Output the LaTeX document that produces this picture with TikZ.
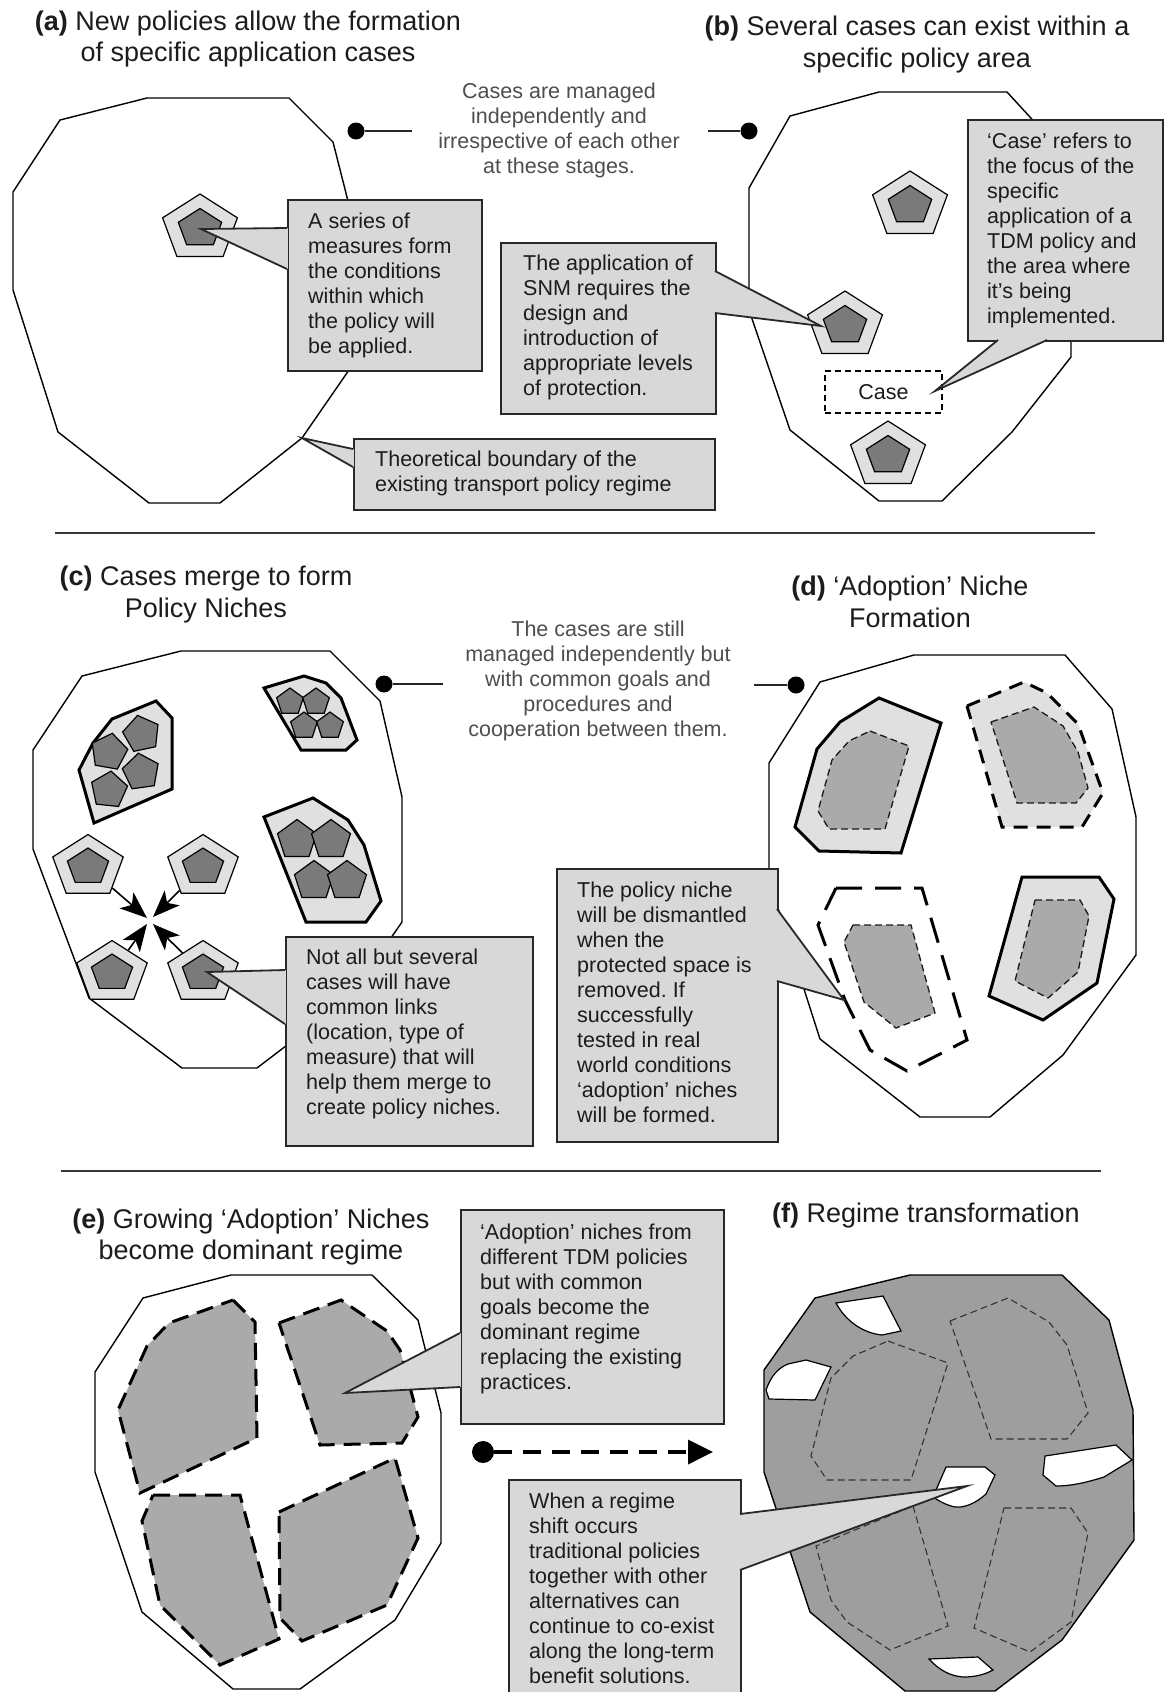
\documentclass[tikz,border=0pt]{standalone}
\usepackage{fontspec}
\setmainfont{Liberation Sans}
\usetikzlibrary{shapes.geometric,arrows.meta}
\frenchspacing

\definecolor{boxfill}{RGB}{216,216,216}
\definecolor{lightfill}{RGB}{224,224,224}
\definecolor{darkpent}{RGB}{122,122,122}
\definecolor{midfill}{RGB}{170,170,170}
\definecolor{regimefill}{RGB}{158,158,158}
\definecolor{textdark}{RGB}{28,28,28}
\definecolor{textgray}{RGB}{78,78,78}
\definecolor{rulegray}{RGB}{55,55,55}
\definecolor{framegray}{RGB}{40,40,40}

\newcommand\bodyfont{\fontsize{21.5}{25}\selectfont}
\newcommand\titlefont{\fontsize{27}{31.5}\selectfont}

% a case: light protective pentagon with the dark measure pentagon inside
\newcommand\casepent[5]{%
  \begin{scope}[shift={(#2,#3)}, xscale=1.14]
    \node[pentout, transform shape, minimum size=#4] (#1) at (0,0) {};
    \node[pentin, transform shape, minimum size=#5] (#1i) at (0,0) {};
  \end{scope}}

% speech-bubble wedge leaving a box: base point, tip, base point
\newcommand\pointer[3]{%
  \fill[boxfill] (#1) -- (#2) -- (#3) -- cycle;
  \draw[boxfill, line width=2.8] (#1) -- (#3);
  \draw[ptrline] (#1) -- (#2) -- (#3);}

\begin{document}
\begin{tikzpicture}[x=1pt, y=-1pt, line join=miter,
  regime/.style={draw=black, line width=1.4, fill=white},
  rule/.style={draw=rulegray, line width=2.6},
  boxframe/.style={draw=framegray, line width=1.8, fill=boxfill, inner sep=0, anchor=north west},
  ptrline/.style={draw=framegray, line width=1.8},
  bodytext/.style={font=\bodyfont, align=left, inner sep=0, text=textdark, anchor=west},
  titletext/.style={font=\titlefont, align=center, inner sep=0, text=textdark},
  midtext/.style={font=\bodyfont, align=center, inner sep=0, text=textgray},
  pentout/.style={regular polygon, regular polygon sides=5, inner sep=0, draw=black, line width=1.2, fill=lightfill},
  pentin/.style={regular polygon, regular polygon sides=5, inner sep=0, draw=black, line width=1.2, fill=darkpent},
  casebox/.style={draw=black, line width=1.5, dash pattern=on 6pt off 4pt, fill=white, inner sep=0, font=\bodyfont, text=textdark},
  enddot/.style={circle, fill=black, inner sep=0, minimum size=17},
  dotline/.style={draw=black!85, line width=1.6},
  merge/.style={draw=black, line width=1.6, -{Stealth[length=27pt, width=21pt, inset=7pt]}},
  shiftarrow/.style={draw=black, line width=3.6, dash pattern=on 18pt off 11pt, -{Triangle[length=25pt, width=24pt]}},
  cluster/.style={draw=black, line width=3, fill=lightfill},
  nichesolid/.style={draw=black, line width=3, fill=lightfill},
  nichedash/.style={draw=black, line width=3, dash pattern=on 14pt off 9pt, fill=lightfill},
  nicheopen/.style={draw=black, line width=3, dash pattern=on 26pt off 13pt},
  nicheinner/.style={draw=black!90, line width=1.3, dash pattern=on 7pt off 4pt, fill=midfill},
  grown/.style={draw=black, line width=3, dash pattern=on 17pt off 9pt, fill=midfill},
  former/.style={draw=black!80, line width=1.1, dash pattern=on 7pt off 4pt},
  hole/.style={draw=black, line width=1.2, fill=white}]

\useasboundingbox[fill=white] (0,0) rectangle (1167,1692);

% section dividers
\draw[rule] (55,533) -- (1095,533);
\draw[rule] (61,1171) -- (1101,1171);

% panel headings
\node[titletext] (ta) at (248,39) {\textbf{(a)} New policies allow the formation\\of specific application cases};
\node[titletext] (tb) at (917,44.5) {\textbf{(b)} Several cases can exist within a\\specific policy area};
\node[titletext] (tc) at (206,594.5) {\textbf{(c)} Cases merge to form\\Policy Niches};
\node[titletext] (td) at (910,602) {\textbf{(d)} `Adoption' Niche\\Formation};
\node[titletext] (te) at (251,1237) {\textbf{(e)} Growing `Adoption' Niches\\become dominant regime};
\node[titletext] (tf) at (926,1216) {\textbf{(f)} Regime transformation};

% notes between the panels
\node[midtext] (mab) at (559,130.5) {Cases are managed\\independently and\\irrespective of each other\\at these stages.};
\node[midtext] (mcd) at (598,681) {The cases are still\\managed independently but\\with common goals and\\procedures and\\cooperation between them.};

\node[enddot] (da1) at (356,131) {};
\coordinate (da1e) at (412,131);
\draw[dotline] (da1) -- (da1e);
\node[enddot] (da2) at (749,131) {};
\coordinate (da2e) at (708,131);
\draw[dotline] (da2) -- (da2e);
\node[enddot] (dc1) at (384,684) {};
\coordinate (dc1e) at (443,684);
\draw[dotline] (dc1) -- (dc1e);
\node[enddot] (dc2) at (796,685) {};
\coordinate (dc2e) at (754,685);
\draw[dotline] (dc2) -- (dc2e);

% ---------- (a) ----------
\draw[regime] (60,120) -- (147,98) -- (289,98) -- (333,142) -- (349,205) -- (349,370) -- (302,438) -- (220,503) -- (149,503) -- (58,432) -- (13,290) -- (13,192) -- cycle;
\casepent{pa}{200}{228.5}{69}{40}

% ---------- (b) ----------
\draw[regime] (790,116) -- (879,92) -- (1007,92) -- (1040,128) -- (1071,200) -- (1071,357) -- (1012,432) -- (942,501) -- (879,501) -- (790,430) -- (749,310) -- (749,188) -- cycle;
\casepent{pb1}{910}{205.5}{69}{40}
\casepent{pb2}{845}{325.5}{69}{40}
\casepent{pb3}{888}{455.5}{69}{40}
\node[casebox, minimum width=117, minimum height=42] (cb) at (883.5,392) {Case};

% ---------- (c) ----------
\draw[regime] (82,676) -- (181,651) -- (330,651) -- (380,701) -- (402,797) -- (402,922) -- (350,997) -- (257,1068) -- (182,1068) -- (89,998) -- (33,849) -- (33,750) -- cycle;
\draw[cluster] (112,719) -- (156,701) -- (172,718) -- (172,789) -- (94,823) -- (79,770) -- (93,743) -- cycle;
\node[pentin, minimum size=38, shape border rotate=12] (k1a) at (141.5,734) {};
\node[pentin, minimum size=38, shape border rotate=-10] (k1b) at (109,752) {};
\node[pentin, minimum size=38, shape border rotate=8] (k1c) at (141,772) {};
\node[pentin, minimum size=38, shape border rotate=-6] (k1d) at (109,790) {};
\draw[cluster] (264,688) -- (304,676) -- (326,683) -- (341,698) -- (357,740) -- (346,750) -- (301,750) -- cycle;
\node[pentin, minimum size=28] (k2a) at (290,702) {};
\node[pentin, minimum size=28] (k2b) at (316,702) {};
\node[pentin, minimum size=28] (k2c) at (304,726) {};
\node[pentin, minimum size=28] (k2d) at (330,726) {};
\draw[cluster] (264,817) -- (313,798) -- (348,820) -- (364,845) -- (381,901) -- (366,922) -- (306,922) -- cycle;
\node[pentin, minimum size=41] (k3a) at (297,840) {};
\node[pentin, minimum size=41] (k3b) at (331,840) {};
\node[pentin, minimum size=41] (k3c) at (314,881) {};
\node[pentin, minimum size=41] (k3d) at (347,881) {};
\casepent{cp1}{88}{867}{65}{38}
\casepent{cp2}{203}{867}{65}{38}
\casepent{cp3}{112}{973}{65}{38}
\casepent{cp4}{203}{973}{65}{38}
\coordinate (mc1) at (147,918);
\coordinate (mc2) at (153,917);
\coordinate (mc3) at (147,924);
\coordinate (mc4) at (153,924);
\draw[merge] (cp1) -- (mc1);
\draw[merge] (cp2) -- (mc2);
\draw[merge] (cp3) -- (mc3);
\draw[merge] (cp4) -- (mc4);

% ---------- (d) ----------
\draw[regime] (820,682) -- (914,655) -- (1065,655) -- (1112,709) -- (1136,817) -- (1136,955) -- (1063,1055) -- (990,1117) -- (920,1117) -- (820,1039) -- (769,880) -- (769,763) -- cycle;
\draw[nichesolid] (879,698) -- (941,723) -- (901,853) -- (819,851) -- (795,827) -- (817,749) -- (840,722) -- cycle;
\draw[nicheinner] (870,731) -- (909,746) -- (885,829) -- (829,829) -- (818,811) -- (832,760) -- (849,741) -- cycle;
\draw[nichedash] (967,706) -- (1024,682) -- (1047,693) -- (1078,724) -- (1103,793) -- (1082,827) -- (1002,827) -- cycle;
\draw[nicheinner] (991,722) -- (1034,707) -- (1063,726) -- (1078,752) -- (1088,788) -- (1076,803) -- (1017,803) -- cycle;
\draw[nicheopen] (836,888) -- (922,888) -- (967,1040) -- (907,1071) -- (870,1050) -- (845,1000) -- (818,925) -- cycle;
\draw[nicheinner] (853,925) -- (911,925) -- (935,1013) -- (896,1028) -- (864,1002) -- (844,942) -- cycle;
\draw[nichesolid] (1022,877) -- (1099,877) -- (1114,899) -- (1097,983) -- (1043,1020) -- (989,996) -- cycle;
\draw[nicheinner] (1035,900) -- (1080,900) -- (1089,916) -- (1078,972) -- (1048,998) -- (1015,981) -- cycle;

% ---------- (e) ----------
\draw[regime] (143,1298) -- (231,1275) -- (372,1275) -- (418,1320) -- (441,1413) -- (441,1543) -- (395,1620) -- (300,1689) -- (233,1689) -- (142,1612) -- (95,1472) -- (95,1372) -- cycle;
\draw[grown] (233,1300) -- (255,1322) -- (257,1438) -- (140,1493) -- (118,1410) -- (147,1346) -- (169,1323) -- cycle;
\draw[grown] (279,1323) -- (341,1300) -- (387,1331) -- (400,1350) -- (418,1417) -- (402,1443) -- (320,1445) -- cycle;
\draw[grown] (153,1495) -- (240,1495) -- (279,1639) -- (220,1665) -- (160,1605) -- (142,1521) -- cycle;
\draw[grown] (279,1512) -- (395,1458) -- (418,1538) -- (387,1605) -- (302,1641) -- (280,1618) -- cycle;

\node[enddot, minimum size=22] (sd) at (483,1452) {};
\coordinate (st) at (713,1452);
\draw[shiftarrow] (sd) -- (st);

% ---------- (f) ----------
\draw[regime, fill=regimefill] (815,1298) -- (910,1275) -- (1062,1275) -- (1109,1320) -- (1133,1410) -- (1134,1540) -- (1062,1640) -- (995,1691) -- (905,1691) -- (810,1612) -- (764,1472) -- (764,1370) -- cycle;
\draw[former] (888,1341) -- (948,1363) -- (911,1480) -- (827,1480) -- (811,1456) -- (831,1378) -- (853,1356) -- cycle;
\draw[former] (950,1321) -- (1008,1298) -- (1049,1322) -- (1067,1345) -- (1088,1413) -- (1067,1439) -- (991,1439) -- cycle;
\draw[former] (913,1506) -- (948,1626) -- (890,1650) -- (847,1622) -- (831,1600) -- (816,1546) -- cycle;
\draw[former] (1004,1508) -- (1071,1508) -- (1088,1533) -- (1071,1622) -- (1030,1652) -- (974,1628) -- cycle;
\draw[hole] (836,1303) -- (883,1296) -- (901,1331) -- (882,1335) .. controls (862,1333) and (845,1320) .. (836,1303) -- cycle;
\draw[hole] (766,1390) .. controls (771,1376) and (778,1368) .. (788,1364) -- (806,1360) -- (831,1367) -- (815,1400) -- (769,1399) -- cycle;
\draw[hole] (946,1467) -- (985,1467) -- (995,1475) -- (986,1494) .. controls (976,1503) and (965,1508) .. (955,1507) .. controls (946,1505) and (939,1501) .. (933,1497) -- cycle;
\draw[hole] (1045,1456) -- (1116,1445) -- (1132,1460) -- (1104,1477) .. controls (1088,1482) and (1072,1486) .. (1056,1486) -- (1043,1475) -- cycle;
\draw[hole] (929,1659) -- (978,1657) -- (993,1670) .. controls (984,1675) and (974,1677) .. (963,1677) .. controls (950,1676) and (939,1670) .. (929,1659) -- cycle;

% ---------- callout boxes ----------
\node[boxframe, minimum width=194, minimum height=171] (boxa) at (287,199) {};
\coordinate (pa1) at (287,228); \coordinate (pat) at (201,229); \coordinate (pa2) at (287,269);
\pointer{pa1}{pat}{pa2}
\node[bodytext] (txa) at (308,285.5) {A series of\\measures form\\the conditions\\within which\\the policy will\\be applied.};

\node[boxframe, minimum width=361, minimum height=71] (boxt) at (353,438) {};
\coordinate (pt1) at (353,449); \coordinate (ptt) at (302,438); \coordinate (pt2) at (353,467);
\pointer{pt1}{ptt}{pt2}
\node[bodytext] (txt) at (375,473.5) {Theoretical boundary of the\\existing transport policy regime};

\node[boxframe, minimum width=215, minimum height=171] (boxs) at (500,242) {};
\coordinate (ps1) at (715,271); \coordinate (pst) at (821,326); \coordinate (ps2) at (715,313);
\pointer{ps1}{pst}{ps2}
\node[bodytext] (txs) at (523,327.5) {The application of\\SNM requires the\\design and\\introduction of\\appropriate levels\\of protection.};

\node[boxframe, minimum width=195, minimum height=221] (boxc) at (967,119) {};
\coordinate (pc1) at (998,340); \coordinate (pct) at (935,391); \coordinate (pc2) at (1047,340);
\pointer{pc1}{pct}{pc2}
\node[bodytext] (txc) at (987,230.5) {`Case' refers to\\the focus of the\\specific\\application of a\\TDM policy and\\the area where\\it's being\\implemented.};

\node[boxframe, minimum width=247, minimum height=209] (boxn) at (285,936) {};
\coordinate (pn1) at (285,970); \coordinate (pnt) at (207,972); \coordinate (pn2) at (285,1024);
\pointer{pn1}{pnt}{pn2}
\node[bodytext] (txn) at (306,1033.5) {Not all but several\\cases will have\\common links\\(location, type of\\measure) that will\\help them merge to\\create policy niches.};

\node[boxframe, minimum width=221, minimum height=273] (boxd) at (556,868) {};
\coordinate (pd1) at (777,909); \coordinate (pdt) at (844,1000); \coordinate (pd2) at (777,981);
\pointer{pd1}{pdt}{pd2}
\node[bodytext] (txd) at (577,1002.5) {The policy niche\\will be dismantled\\when the\\protected space is\\removed. If\\successfully\\tested in real\\world conditions\\`adoption' niches\\will be formed.};

\node[boxframe, minimum width=263, minimum height=214] (boxe) at (460,1209) {};
\coordinate (pe1) at (460,1333); \coordinate (pet) at (345,1393); \coordinate (pe2) at (460,1387);
\pointer{pe1}{pet}{pe2}
\node[bodytext] (txe) at (480,1308.5) {`Adoption' niches from\\different TDM policies\\but with common\\goals become the\\dominant regime\\replacing the existing\\practices.};

\node[boxframe, minimum width=232, minimum height=230] (boxf) at (508,1479) {};
\coordinate (pf1) at (740,1514); \coordinate (pft) at (967,1486); \coordinate (pf2) at (740,1570);
\pointer{pf1}{pft}{pf2}
\node[bodytext] (txf) at (529,1588.5) {When a regime\\shift occurs\\traditional policies\\together with other\\alternatives can\\continue to co-exist\\along the long-term\\benefit solutions.};

\end{tikzpicture}
\end{document}
